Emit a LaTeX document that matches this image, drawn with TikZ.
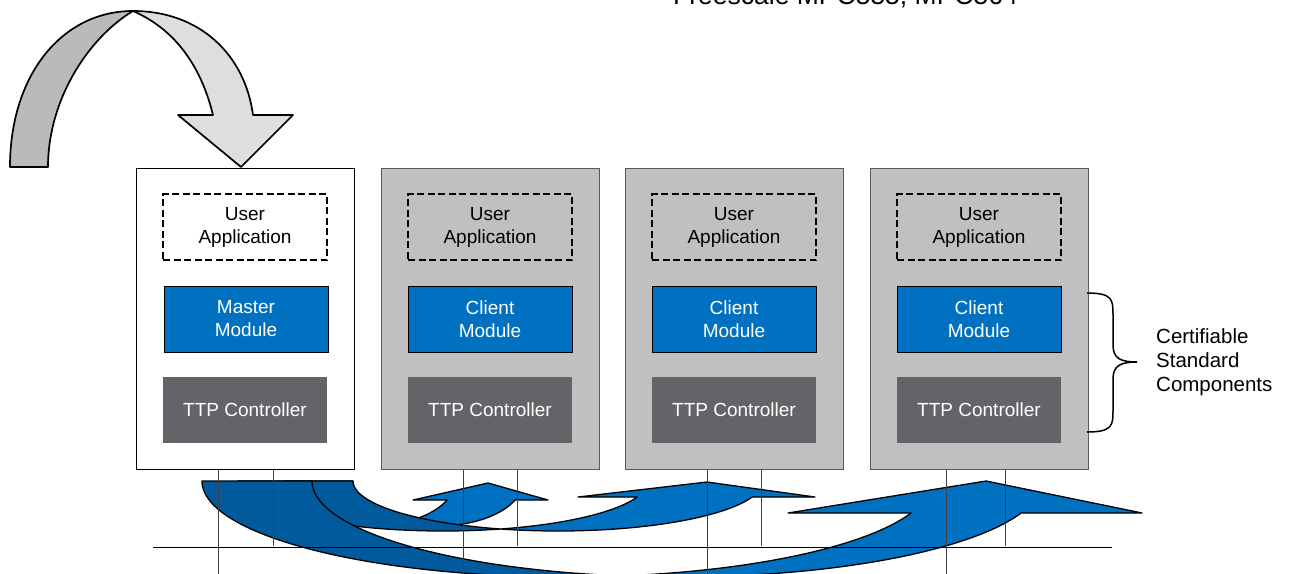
\documentclass[tikz,border=0pt]{standalone}
\usepackage{fontspec}
\setmainfont{Liberation Sans}
\definecolor{modblue}{RGB}{0,112,192}
\definecolor{arrlight}{RGB}{0,112,192}
\definecolor{arrdark}{RGB}{0,90,156}
\definecolor{ttpgray}{RGB}{100,100,104}
\definecolor{boxgray}{RGB}{192,192,192}
\definecolor{gdark}{RGB}{186,186,186}
\definecolor{glight}{RGB}{222,222,222}
\newcommand\boxfont{\fontsize{19}{23}\selectfont}
\newcommand\notefont{\fontsize{20.5}{24}\selectfont}
\newcommand\headfont{\fontsize{26.5}{30}\selectfont}
\begin{document}
\begin{tikzpicture}[x=1pt,y=-1pt,
  outerbox/.style={draw=black!65, line width=1pt, minimum width=218pt, minimum height=301pt, inner sep=0pt, anchor=north west},
  appbox/.style={draw=black, line width=1.8pt, dash pattern=on 7pt off 3.5pt, minimum width=164pt, minimum height=66pt, inner sep=0pt, align=center, font=\boxfont},
  modbox/.style={draw=black, line width=1pt, fill=modblue, text=white, minimum width=164pt, minimum height=66pt, inner sep=0pt, align=center, font=\boxfont},
  ttpbox/.style={fill=ttpgray, text=white, minimum width=164pt, minimum height=66pt, inner sep=0pt, align=center, font=\boxfont},
  arrline/.style={draw=black, line width=1.3pt, line join=round},
  grayarr/.style={draw=black, line width=1.7pt, line join=round},
  vline/.style={draw=black!75, line width=0.9pt},
]
\useasboundingbox (0,0) rectangle (1290,573);

% heading (cut off at the top, as in the original)
\node[anchor=base, font=\headfont, inner sep=0pt] (bul) at (641,4.5) {•};
\node[anchor=base west, font=\headfont, inner sep=0pt] (title) at (673,4.5) {Freescale MPC555, MPC564};

% gray curved arrow
\filldraw[grayarr, fill=gdark] (10,167) .. controls (10,75) and (62,11) .. (133,11)
  .. controls (88,38) and (48,100) .. (48,167) -- cycle;
\filldraw[grayarr, fill=glight] (133,11) .. controls (200,11) and (245,55) .. (253,115)
  -- (293,115) -- (241,167) -- (178,115) -- (213,115)
  .. controls (200,62) and (172,28) .. (133,11) -- cycle;

% outer boxes
\node[outerbox, draw=black, fill=white] (b1) at (136,168) {};
\node[outerbox, fill=boxgray] (b2) at (381,168) {};
\node[outerbox, fill=boxgray] (b3) at (625,168) {};
\node[outerbox, fill=boxgray] (b4) at (870,168) {};

% inner boxes
\node[appbox, fill=white] (u1) at (245,227) {User\\Application};
\node[appbox] (u2) at (490,227) {User\\Application};
\node[appbox] (u3) at (734,227) {User\\Application};
\node[appbox] (u4) at (979,227) {User\\Application};
\node[modbox] (m1) at (246,319) {Master\\Module};
\node[modbox] (m2) at (490,319) {Client\\Module};
\node[modbox] (m3) at (734,319) {Client\\Module};
\node[modbox] (m4) at (979,319) {Client\\Module};
\node[ttpbox] (t1) at (245,410) {TTP Controller};
\node[ttpbox] (t2) at (490,410) {TTP Controller};
\node[ttpbox] (t3) at (734,410) {TTP Controller};
\node[ttpbox] (t4) at (979,410) {TTP Controller};

% brace and label
\draw[line width=1.5pt] (1087,293) .. controls (1113,293) and (1113,300) .. (1113,315)
  -- (1113,345) .. controls (1113,358) and (1120,362) .. (1137,362)
  .. controls (1120,362) and (1113,366) .. (1113,379)
  -- (1113,410) .. controls (1113,425) and (1113,432) .. (1087,432);
\node[anchor=west, align=left, font=\notefont, inner sep=0pt] (cert) at (1156,362) {Certifiable\\Standard\\Components};

% small curved arrow (to node 2)
\filldraw[arrline, fill=arrdark]
  plot[domain=180:66.42, samples=50] ({370+85*cos(\x)},{481+45*sin(\x)})
  -- plot[domain=113.58:180, samples=50] ({438+85*cos(\x)},{481+45*sin(\x)}) -- cycle;
\filldraw[arrline, fill=arrlight]
  plot[domain=66.42:24.97, samples=40] ({370+85*cos(\x)},{481+45*sin(\x)})
  -- (413,500) -- (488,483) -- (548,500)
  -- plot[domain=24.97:113.58, samples=50] ({438+85*cos(\x)},{481+45*sin(\x)}) -- cycle;

% medium curved arrow (to node 3)
\filldraw[arrline, fill=arrdark]
  plot[domain=180:73.71, samples=60] ({443+205*cos(\x)},{481+50*sin(\x)})
  -- plot[domain=106.29:180, samples=60] ({558+205*cos(\x)},{481+50*sin(\x)}) -- cycle;
\filldraw[arrline, fill=arrlight]
  plot[domain=73.71:18.66, samples=50] ({443+205*cos(\x)},{481+50*sin(\x)})
  -- (578,497) -- (707,482) -- (815,497)
  -- plot[domain=18.66:106.29, samples=60] ({558+205*cos(\x)},{481+50*sin(\x)}) -- cycle;

% big curved arrow (to node 4)
\filldraw[arrline, fill=arrdark]
  plot[domain=180:81.33, samples=80] ({567+365*cos(\x)},{481+96*sin(\x)})
  -- plot[domain=98.67:180, samples=80] ({677+365*cos(\x)},{481+96*sin(\x)}) -- cycle;
\filldraw[arrline, fill=arrlight]
  plot[domain=81.33:19.47, samples=60] ({567+365*cos(\x)},{481+96*sin(\x)})
  -- (788,513) -- (986,481) -- (1142,513)
  -- plot[domain=19.47:98.67, samples=80] ({677+365*cos(\x)},{481+96*sin(\x)}) -- cycle;

% bus taps and bus line
\coordinate (x1a) at (218,0); \coordinate (x1b) at (273,0);
\coordinate (x2a) at (463,0); \coordinate (x2b) at (517,0);
\coordinate (x3a) at (707,0); \coordinate (x3b) at (761,0);
\coordinate (x4a) at (946,0); \coordinate (x4b) at (1005,0);
\draw[vline] (b1.south -| x1a) -- ++(0,104);
\draw[vline] (b1.south -| x1b) -- ++(0,76);
\draw[vline] (b2.south -| x2a) -- ++(0,104);
\draw[vline] (b2.south -| x2b) -- ++(0,76);
\draw[vline] (b3.south -| x3a) -- ++(0,104);
\draw[vline] (b3.south -| x3b) -- ++(0,76);
\draw[vline] (b4.south -| x4a) -- ++(0,104);
\draw[vline] (b4.south -| x4b) -- ++(0,76);
\coordinate (busL) at (153,547);
\coordinate (busR) at (1112,547);
\draw[line width=0.9pt] (busL) -- (busR);
\end{tikzpicture}
\end{document}
